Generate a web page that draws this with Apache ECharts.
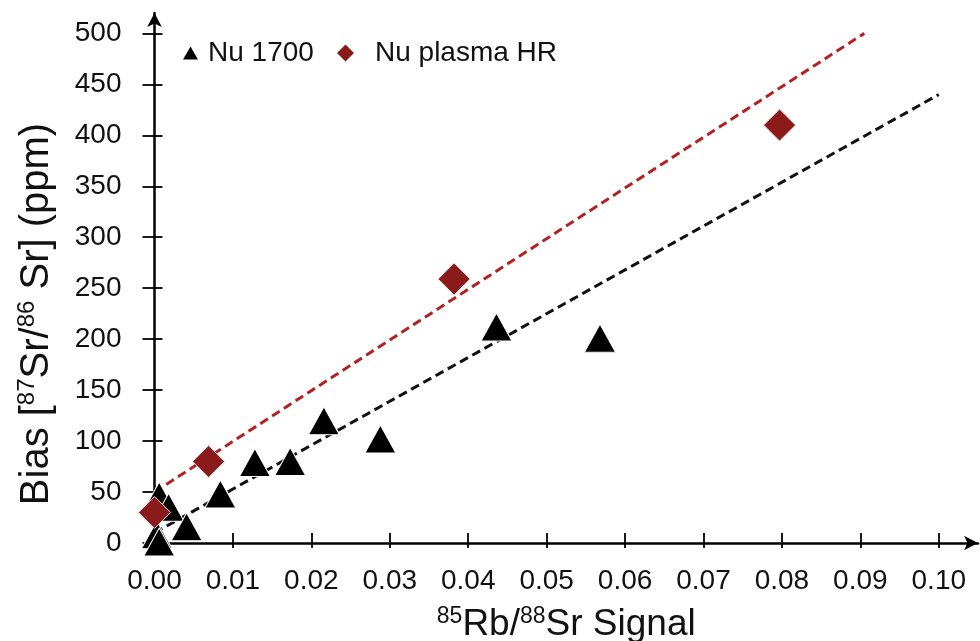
<!DOCTYPE html>
<html>
<head>
<meta charset="utf-8">
<script src="https://cdn.jsdelivr.net/npm/echarts@6/dist/echarts.min.js"></script>
<style>html,body{margin:0;padding:0;background:#fff}#c{width:980px;height:641px}</style>
</head>
<body>
<div id="c"></div>
<script>
// ---- data ----
const xTickValues = [0, 0.01, 0.02, 0.03, 0.04, 0.05, 0.06, 0.07, 0.08, 0.09, 0.10];
const yTickValues = [0, 50, 100, 150, 200, 250, 300, 350, 400, 450, 500];
const seriesNames = ['Nu 1700', 'Nu plasma HR'];
const nu1700X = [0.0003, 0.0006, 0.0006, 0.0018, 0.0041, 0.0084, 0.0128, 0.0173, 0.0216, 0.0288, 0.0436, 0.0568];
const nu1700Y = [8, 1, 46, 35, 16, 48, 79, 80, 120, 102, 212, 201];
const plasmaX = [0.0000, 0.0069, 0.0382, 0.0797];
const plasmaY = [30, 80, 259, 410];
const fitNu1700X = [0, 0.10];
const fitNu1700Y = [10, 440];
const fitPlasmaX = [0, 0.0905];
const fitPlasmaY = [50, 500];

const pairs = (xs, ys) => xs.map((x, i) => [x, ys[i]]);
const FONT = "'Liberation Sans',Arial,sans-serif";
const RED = '#8b1a1a';

const chart = echarts.init(document.getElementById('c'), null, {renderer: 'canvas'});
const baseX = {
  type: 'value', min: 0, max: 0.105, position: 'bottom',
  splitLine: {show: false}
};
const baseY = {
  type: 'value', min: 0, max: 520, position: 'left',
  splitLine: {show: false}
};
chart.setOption({
  animation: false,
  backgroundColor: '#fff',
  grid: {left: 154.5, right: 2, top: 13, bottom: 98, containLabel: false, outerBoundsMode: 'none'},
  legend: [
    {
      left: 183, top: 39, padding: 0,
      data: [seriesNames[0]],
      itemWidth: 15, itemHeight: 13,
      itemStyle: {borderWidth: 0},
      textStyle: {fontFamily: FONT, fontSize: 28, color: '#111', padding: [0, 0, 0, 5]}
    },
    {
      left: 337, top: 39, padding: 0,
      data: [seriesNames[1]],
      itemWidth: 17, itemHeight: 17,
      itemStyle: {borderWidth: 0},
      textStyle: {fontFamily: FONT, fontSize: 28, color: '#111', padding: [0, 0, 0, 16]}
    }
  ],
  xAxis: [
    Object.assign({}, baseX, {
      name: '{sup|85}Rb/{sup|88}Sr Signal',
      nameLocation: 'middle', nameGap: 62,
      nameTextStyle: {
        fontFamily: FONT, fontSize: 37, color: '#111', lineHeight: 40,
        rich: {sup: {fontFamily: FONT, fontSize: 23, color: '#111', verticalAlign: 'top', lineHeight: 40, padding: [0, 0, 12, 0]}}
      },
      axisLine: {show: true, lineStyle: {color: '#000', width: 2.5}, symbol: ['none', 'arrow'], symbolSize: [11, 14]},
      axisTick: {show: true, inside: false, length: 5, lineStyle: {color: '#000', width: 1.8}, customValues: xTickValues},
      axisLabel: {
        show: true, margin: 24, customValues: xTickValues,
        fontFamily: FONT, fontSize: 28, color: '#111',
        formatter: v => v.toFixed(2)
      }
    }),
    Object.assign({}, baseX, {
      axisLine: {show: false},
      axisTick: {show: true, inside: true, length: 10, lineStyle: {color: '#000', width: 1.8}, customValues: xTickValues},
      axisLabel: {show: false}
    })
  ],
  yAxis: [
    Object.assign({}, baseY, {
      name: 'Bias [{sup|87}Sr/{sup|86} Sr] (ppm)',
      nameLocation: 'middle', nameRotate: 90, nameGap: 97,
      nameTextStyle: {
        fontFamily: FONT, fontSize: 40, color: '#111', lineHeight: 42, padding: [0, 72, 0, 0],
        rich: {sup: {fontFamily: FONT, fontSize: 24, color: '#111', verticalAlign: 'top', lineHeight: 42, padding: [0, 0, 13, 0]}}
      },
      axisLine: {show: true, lineStyle: {color: '#000', width: 2.5}, symbol: ['none', 'arrow'], symbolSize: [11, 14]},
      axisTick: {show: true, inside: false, length: 12, lineStyle: {color: '#000', width: 1.8}, customValues: yTickValues},
      axisLabel: {
        show: true, margin: 33, customValues: yTickValues,
        fontFamily: FONT, fontSize: 28, color: '#111'
      }
    }),
    Object.assign({}, baseY, {
      axisLine: {show: false},
      axisTick: {show: true, inside: true, length: 8, lineStyle: {color: '#000', width: 1.8}, customValues: yTickValues},
      axisLabel: {show: false}
    })
  ],
  series: [
    {
      name: 'fit ' + seriesNames[0], type: 'line', xAxisIndex: 0, yAxisIndex: 0,
      data: pairs(fitNu1700X, fitNu1700Y), symbol: 'none', silent: true, z: 1,
      lineStyle: {color: '#111', width: 3, type: [9, 5]}
    },
    {
      name: 'fit ' + seriesNames[1], type: 'line', xAxisIndex: 0, yAxisIndex: 0,
      data: pairs(fitPlasmaX, fitPlasmaY), symbol: 'none', silent: true, z: 1,
      lineStyle: {color: '#b22222', width: 3, type: [9, 5]}
    },
    {
      name: seriesNames[0], type: 'scatter', xAxisIndex: 0, yAxisIndex: 0,
      data: pairs(nu1700X, nu1700Y), symbol: 'triangle', symbolSize: [31, 28], z: 3,
      itemStyle: {color: '#000', borderColor: '#fff', borderWidth: 1, opacity: 1}
    },
    {
      name: seriesNames[1], type: 'scatter', xAxisIndex: 0, yAxisIndex: 0,
      data: pairs(plasmaX, plasmaY), symbol: 'diamond', symbolSize: [32, 32], z: 4,
      itemStyle: {color: RED, borderColor: '#ddd', borderWidth: 1, opacity: 1}
    }
  ]
});
</script>
</body>
</html>
